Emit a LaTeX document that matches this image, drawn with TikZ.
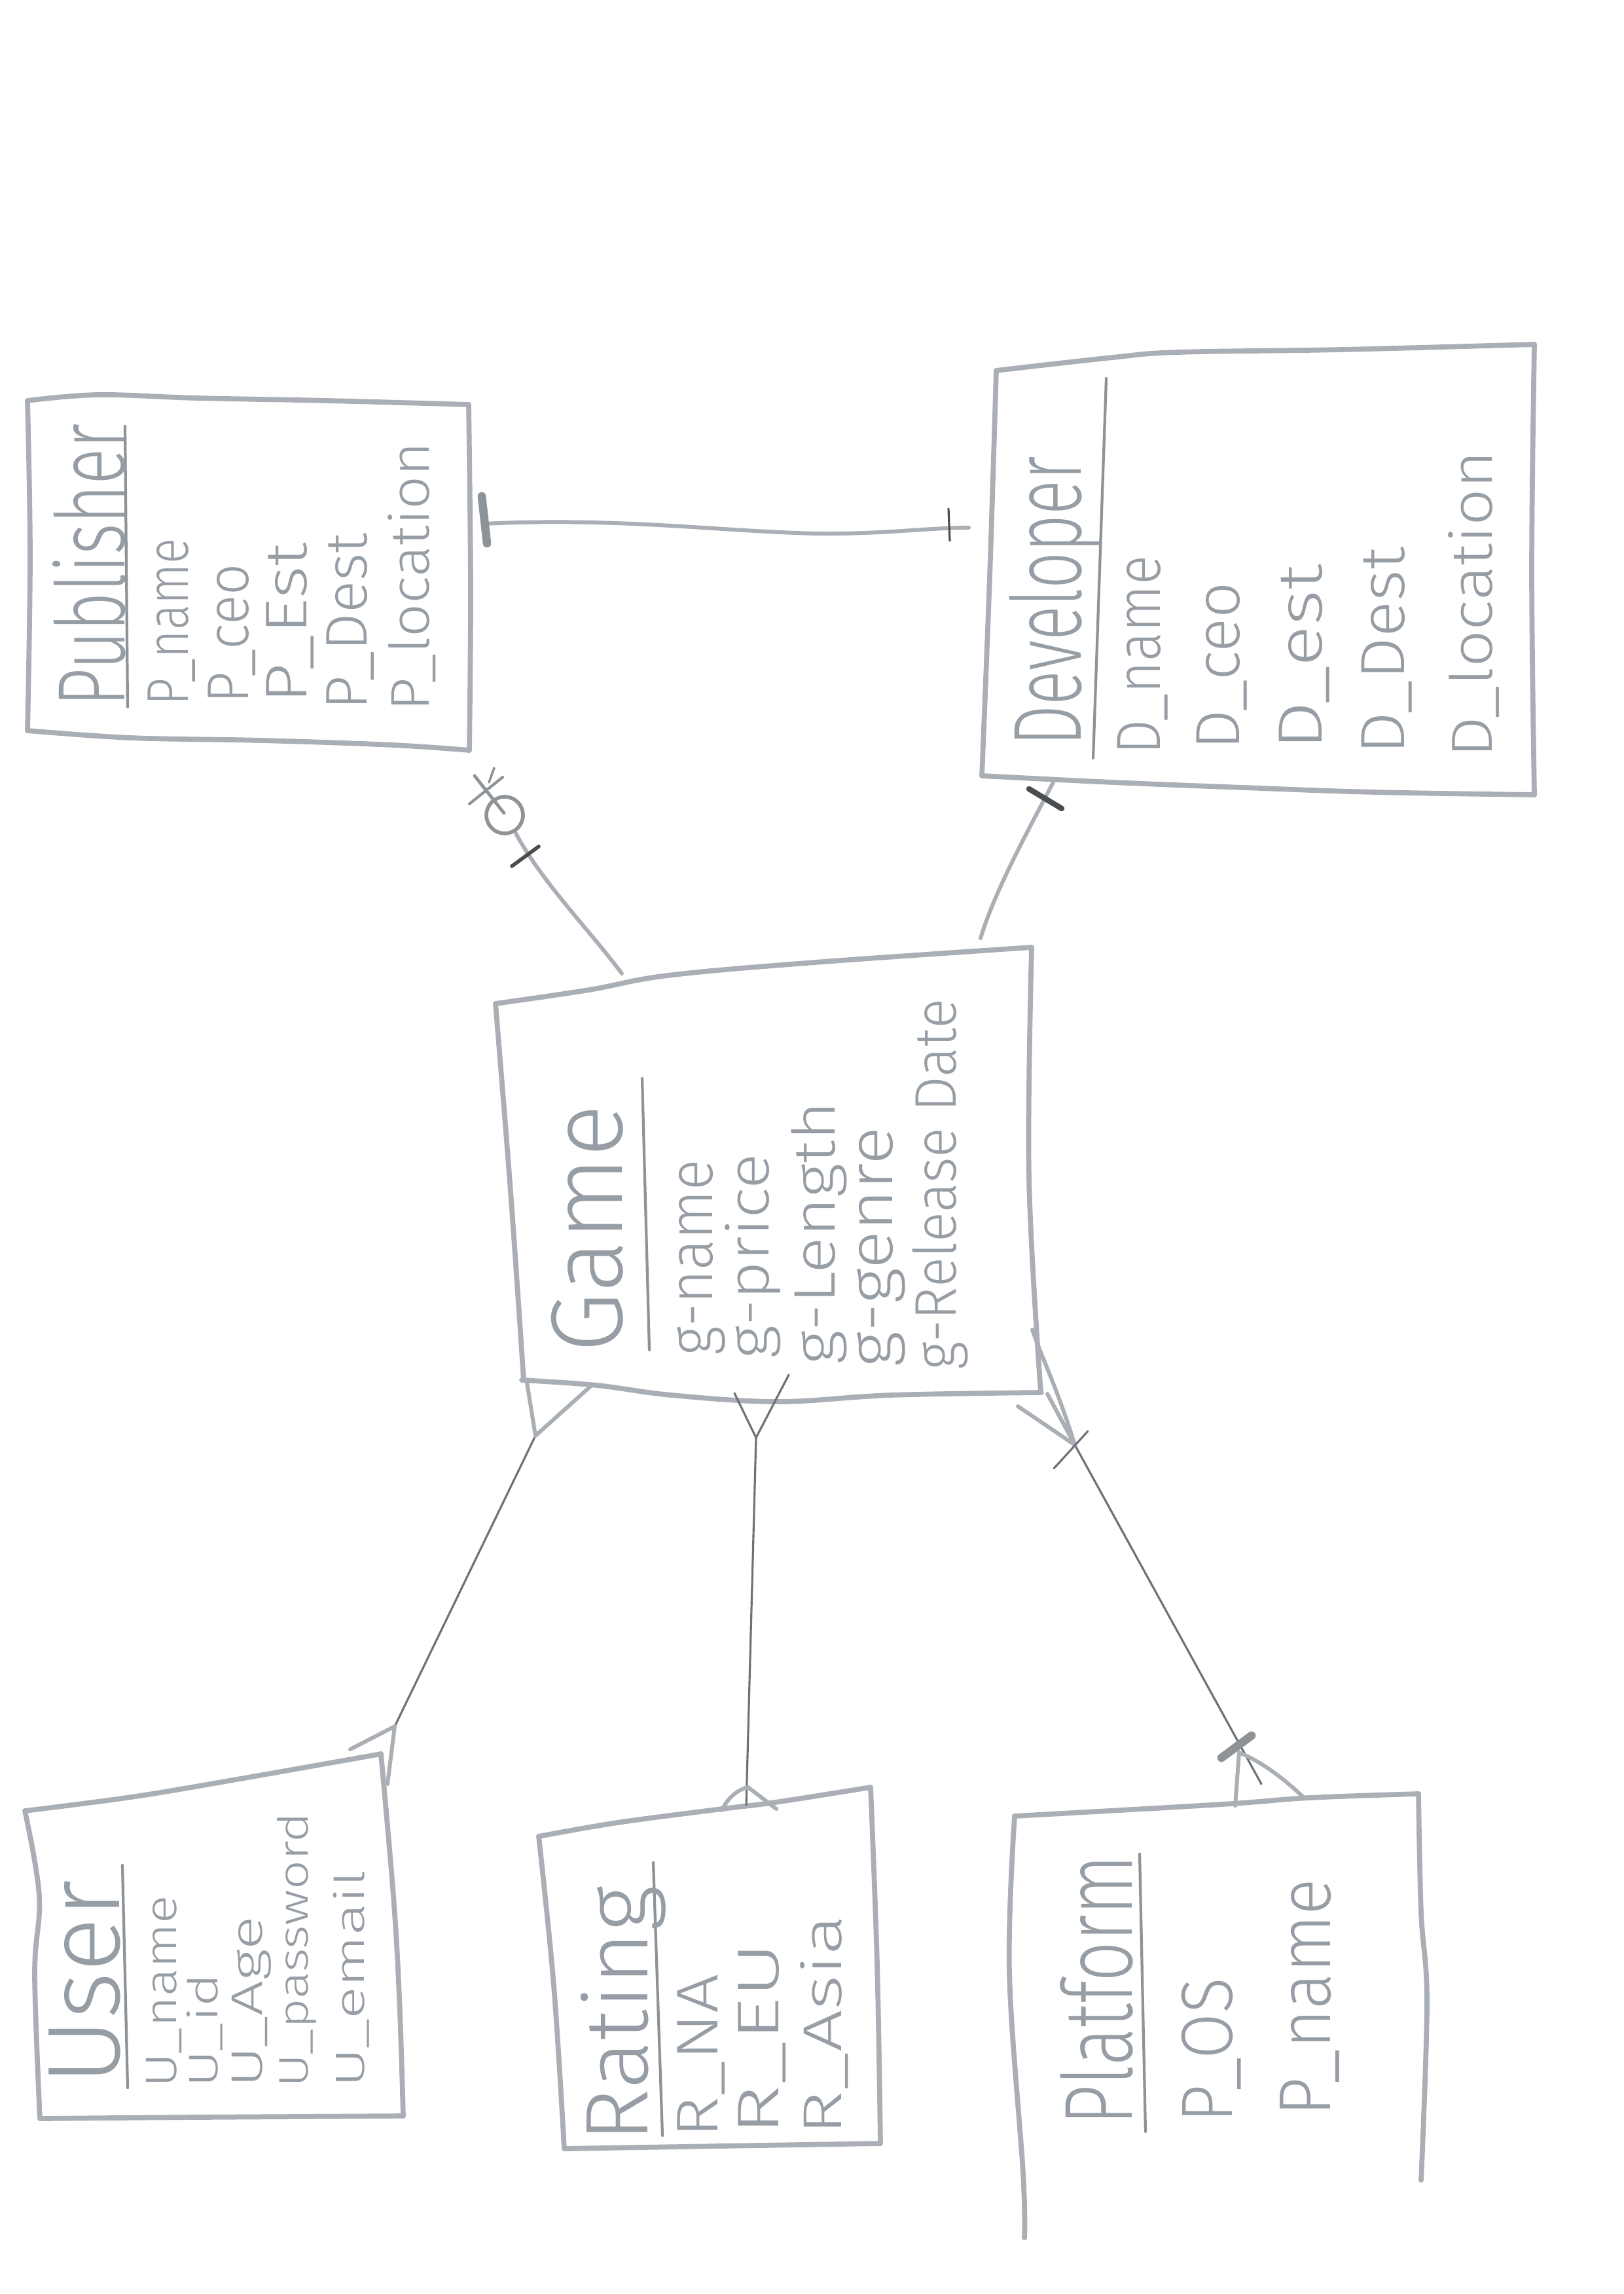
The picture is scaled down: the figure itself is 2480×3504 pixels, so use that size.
\documentclass[tikz,border=0pt]{standalone}
\usepackage{fontspec}
\setmainfont{Fira Sans}[UprightFont=* Light]
\definecolor{boxgray}{HTML}{A9AFB5}
\definecolor{inkgray}{HTML}{969DA4}
\definecolor{rulegray}{HTML}{8E9398}
\definecolor{linegray}{HTML}{6E7276}
\definecolor{markgray}{HTML}{4A4D50}
% set a word to a given length and thickness (cm)
\newcommand\penword[3]{\resizebox*{#1cm}{#2cm}{\vphantom{Ag}#3}}
\begin{document}
\begin{tikzpicture}[x=0.01cm,y=-0.01cm,
  pencil/.style={draw=boxgray, line width=2.2pt, line cap=round, line join=round},
  rulestroke/.style={draw=rulegray, line width=1.2pt, line cap=round},
  word/.style={text=inkgray, inner sep=0pt, rotate=90, anchor=west},
  thinline/.style={draw=linegray, line width=0.9pt, line cap=round},
  softline/.style={draw=boxgray, line width=1.7pt, line cap=round},
  darkbar/.style={draw=markgray, line width=2.4pt, line cap=round},
  softbar/.style={draw=rulegray, line width=3.6pt, line cap=round}]

\path[use as bounding box, fill=white] (0,0) rectangle (2480,3504);

% ---------------- Publisher ----------------
\draw[pencil] plot[smooth, tension=.6] coordinates {(42,612) (150,603) (300,608) (500,612) (716,618)};
\draw[pencil] plot[smooth, tension=.6] coordinates {(716,618) (719,900) (717,1146)};
\draw[pencil] plot[smooth, tension=.6] coordinates {(42,1116) (200,1127) (400,1131) (600,1138) (717,1146)};
\draw[pencil] plot[smooth, tension=.6] coordinates {(42,612) (46,850) (42,1116)};
\draw[rulestroke] (191,651) -- (195,1080);
\node[word] (pubT) at (150,1080) {\penword{4.32}{1.40}{Publisher}};
\node[word] (pubA1) at (266,1078) {\penword{2.55}{0.80}{P\_name}};
\node[word] (pubA2) at (358,1075) {\penword{2.13}{0.80}{P\_ceo}};
\node[word] (pubA3) at (447,1075) {\penword{2.45}{0.80}{P\_Est}};
\node[word] (pubA4) at (539,1085) {\penword{2.70}{0.80}{P\_Dest}};
\node[word] (pubA5) at (633,1087) {\penword{4.11}{0.80}{P\_location}};

% ---------------- Developer ----------------
\draw[pencil] plot[smooth, tension=.6] coordinates {(1522,566) (1700,546) (1800,538) (2050,534) (2344,526)};
\draw[pencil] plot[smooth, tension=.6] coordinates {(2344,526) (2340,870) (2344,1214)};
\draw[pencil] plot[smooth, tension=.6] coordinates {(1500,1185) (1700,1195) (1900,1203) (2100,1210) (2344,1214)};
\draw[pencil] plot[smooth, tension=.6] coordinates {(1522,566) (1512,880) (1500,1185)};
\draw[rulestroke] (1690,578) -- (1670,1158);
\node[word] (devT) at (1612,1140) {\penword{4.42}{1.40}{Developer}};
\node[word] (devA1) at (1750,1153) {\penword{3.03}{0.85}{D\_name}};
\node[word] (devA2) at (1871,1146) {\penword{2.56}{0.85}{D\_ceo}};
\node[word] (devA3) at (1997,1146) {\penword{2.83}{0.85}{D\_est}};
\node[word] (devA4) at (2123,1153) {\penword{3.16}{0.85}{D\_Dest}};
\node[word] (devA5) at (2255,1158) {\penword{4.68}{0.85}{D\_location}};

% ---------------- Game ----------------
\draw[pencil] plot[smooth, tension=.6] coordinates {(757,1533) (900,1512) (1020,1490) (1245,1470) (1576,1447)};
\draw[pencil] plot[smooth, tension=.6] coordinates {(1576,1447) (1572,1800) (1590,2127)};
\draw[pencil] plot[smooth, tension=.6] coordinates {(797,2108) (912,2116) (1026,2131) (1189,2141) (1361,2131) (1591,2127)};
\draw[pencil] plot[smooth, tension=.6] coordinates {(757,1533) (780,1820) (800,2108)};
\draw[rulestroke] (981,1647) -- (992,2062);
\node[word] (gameT) at (912,2067) {\penword{3.79}{1.40}{Game}};
\node[word] (gameA1) at (1066,2071) {\penword{2.99}{0.85}{g-name}};
\node[word] (gameA2) at (1150,2076) {\penword{3.13}{0.85}{g-price}};
\node[word] (gameA3) at (1251,2085) {\penword{4.02}{0.85}{g-Length}};
\node[word] (gameA4) at (1341,2089) {\penword{3.66}{0.85}{g-genre}};
\node[word] (gameA5) at (1436,2093) {\penword{5.66}{0.85}{g-Release Date}};

% ---------------- User ----------------
\draw[pencil] plot[smooth, tension=.6] coordinates {(38,2766) (200,2745) (350,2720) (582,2679)};
\draw[pencil] plot[smooth, tension=.6] coordinates {(582,2679) (601,2896) (610,3050) (616,3232)};
\draw[pencil] plot[smooth, tension=.6] coordinates {(61,3236) (300,3234) (616,3232)};
\draw[pencil] plot[smooth, tension=.6] coordinates {(38,2766) (60,2896) (53,3015) (61,3236)};
\draw[rulestroke] (187,2849) -- (195,3189);
\node[word] (userT) at (145,3185) {\penword{3.12}{1.40}{User}};
\node[word] (userA1) at (253,3189) {\penword{2.93}{0.60}{U\_name}};
\node[word] (userA2) at (315,3189) {\penword{1.74}{0.60}{U\_id}};
\node[word] (userA3) at (384,3189) {\penword{2.61}{0.60}{U\_Age}};
\node[word] (userA4) at (453,3189) {\penword{4.19}{0.60}{U\_password}};
\node[word] (userA5) at (539,3189) {\penword{3.32}{0.60}{U\_email}};

% ---------------- Rating ----------------
\draw[pencil] plot[smooth, tension=.6] coordinates {(823,2805) (943,2784) (1103,2763) (1184,2753) (1330,2730)};
\draw[pencil] plot[smooth, tension=.6] coordinates {(1330,2730) (1340,3000) (1345,3274)};
\draw[pencil] plot[smooth, tension=.6] coordinates {(862,3282) (1100,3278) (1345,3274)};
\draw[pencil] plot[smooth, tension=.6] coordinates {(823,2805) (846,3033) (862,3282)};
\draw[rulestroke] (998,2845) -- (1012,3262);
\node[word] (ratT) at (952,3273) {\penword{3.91}{1.30}{Rating}};
\node[word] (ratA1) at (1075,3266) {\penword{2.50}{0.80}{R\_NA}};
\node[word] (ratA2) at (1168,3262) {\penword{2.94}{0.80}{R\_EU}};
\node[word] (ratA3) at (1263,3262) {\penword{3.36}{0.80}{R\_Asia}};

% ---------------- Platform (open at the foot of the page) ----------------
\draw[pencil] plot[smooth, tension=.6] coordinates {(1550,2774) (1867,2756) (2000,2746) (2167,2740)};
\draw[pencil] plot[smooth, tension=.6] coordinates {(2167,2740) (2171,2921) (2180,3059) (2171,3330)};
\draw[pencil] plot[smooth, tension=.6] coordinates {(1550,2774) (1542,3013) (1563,3320) (1565,3418)};
\draw[rulestroke] (1741,2832) -- (1750,3256);
\node[word] (platT) at (1690,3247) {\penword{4.13}{1.40}{Platform}};
\node[word] (platA1) at (1855,3243) {\penword{2.21}{1.00}{P\_OS}};
\node[word] (platA2) at (2005,3233) {\penword{3.62}{1.00}{P\_name}};

% ---------------- Publisher -- Developer ----------------
\coordinate (pubR) at (739,800);
\coordinate (devL) at (1480,806);
\draw[softline] (pubR) .. controls (950,790) and (1100,812) .. (1250,815)
                 .. controls (1350,816) and (1420,806) .. (devL);
\draw[softbar] (736,758) -- (744,830);
\draw[draw=markgray, line width=0.9pt, line cap=round] (1449,777) -- (1451,826);

% ---------------- Publisher -- Game ----------------
\coordinate (gameTopA) at (950,1487);
\coordinate (pubFoot) at (788,1273);
\draw[softline] (gameTopA) .. controls (900,1420) and (830,1350) .. (pubFoot);
\draw[draw=rulegray, line width=1.6pt] (771,1245) circle (28);
\draw[draw=markgray, line width=1.6pt, line cap=round] (782,1323) -- (823,1293);
\draw[draw=rulegray, line width=1.4pt, line cap=round] (725,1185) -- (770,1242);
\draw[draw=rulegray, line width=1.2pt, line cap=round] (717,1228) -- (768,1187);
\draw[draw=rulegray, line width=1.0pt, line cap=round] (747,1195) -- (755,1173);

% ---------------- Developer -- Game ----------------
\coordinate (gameTopB) at (1498,1433);
\coordinate (devFoot) at (1610,1193);
\draw[softline] (gameTopB) .. controls (1520,1360) and (1570,1270) .. (devFoot);
\draw[darkbar] (1572,1205) -- (1622,1235);

% ---------------- Game -- User ----------------
\coordinate (gU) at (818,2193);
\coordinate (uG) at (603,2637);
\draw[thinline] (gU) -- (uG);
\draw[softline] (gU) -- (805,2112);
\draw[softline] (gU) -- (905,2115);
\draw[softline] (uG) -- (535,2672);
\draw[softline] (uG) -- (592,2725);

% ---------------- Game -- Rating ----------------
\coordinate (gR) at (1155,2196);
\coordinate (rG) at (1140,2757);
\draw[thinline] (gR) -- (rG);
\draw[thinline] (gR) -- (1122,2128);
\draw[thinline] (gR) -- (1205,2100);
\draw[softline] (1103,2765) .. controls (1112,2745) and (1128,2733) .. (1143,2730) -- (1186,2763);

% ---------------- Game -- Platform ----------------
\coordinate (gP) at (1642,2207);
\coordinate (pG) at (1927,2725);
\draw[thinline] (gP) -- (pG);
\draw[softline] (gP) -- (1555,2148);
\draw[softline] (gP) -- (1600,2129);
\draw[softline] (gP) .. controls (1615,2120) and (1590,2070) .. (1577,2031);
\draw[thinline] (1610,2243) -- (1662,2186);
\draw[softbar] (1866,2685) -- (1912,2651);
\draw[softline] (1893,2676) -- (1887,2758);
\draw[softline] (1895,2678) .. controls (1925,2690) and (1960,2715) .. (1993,2747);
\end{tikzpicture}
\end{document}
